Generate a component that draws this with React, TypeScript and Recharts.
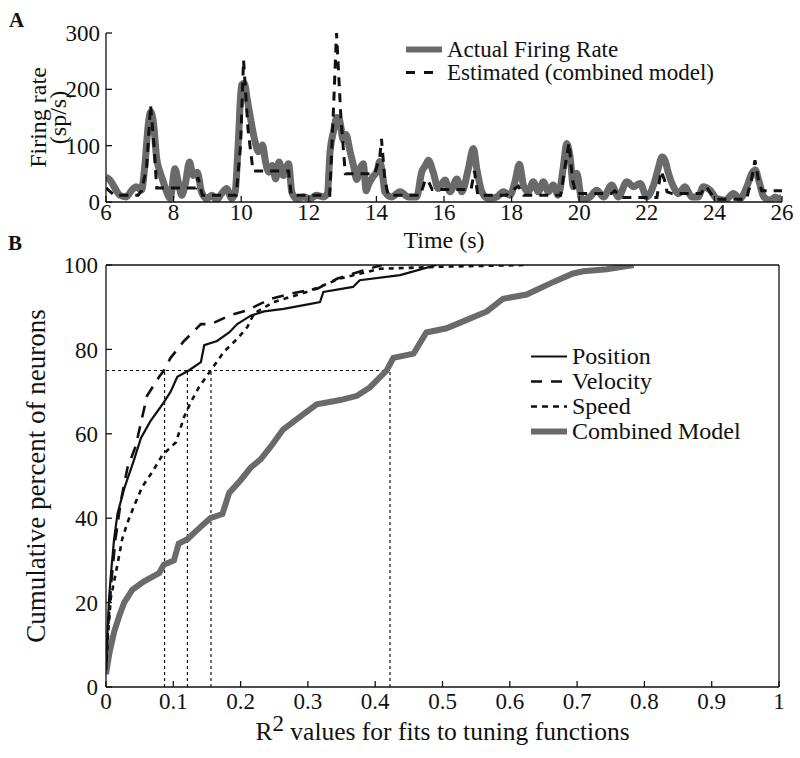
import React from 'react';
import { LineChart, Line, XAxis, YAxis, ReferenceLine, Legend, Label } from 'recharts';

const FONT = '"Liberation Serif", "Times New Roman", serif';
const GREY = '#6a6a6a';

// Panel A: firing rate over time
const actualTime = [
  6.0, 6.12, 6.27, 6.41, 6.6, 6.76, 6.9, 7.05, 7.15, 7.25, 7.32, 7.4, 7.5, 7.6, 7.7, 7.8, 7.9, 8.04, 8.14, 8.24,
  8.34, 8.47, 8.58, 8.7, 8.83, 8.98, 9.13, 9.27, 9.42, 9.57, 9.72, 9.82, 9.92, 10.01, 10.09, 10.19, 10.31, 10.41,
  10.51, 10.63, 10.72, 10.82, 10.92, 11.02, 11.12, 11.25, 11.4, 11.5, 11.64, 11.84, 12.04, 12.23, 12.43, 12.55,
  12.63, 12.73, 12.83, 12.9, 13.02, 13.1, 13.22, 13.32, 13.42, 13.52, 13.61, 13.7, 13.76, 13.9, 14.02, 14.1, 14.2,
  14.25, 14.45, 14.7, 14.95, 15.19, 15.34, 15.45, 15.54, 15.68, 15.83, 16.03, 16.18, 16.38, 16.53, 16.72, 16.87,
  16.97, 17.12, 17.31, 17.56, 17.76, 17.95, 18.1, 18.23, 18.35, 18.49, 18.64, 18.79, 18.94, 19.09, 19.23, 19.38,
  19.53, 19.63, 19.73, 19.83, 19.93, 20.08, 20.32, 20.52, 20.72, 20.96, 21.16, 21.41, 21.61, 21.8, 22.0, 22.2,
  22.35, 22.45, 22.54, 22.64, 22.79, 22.94, 23.13, 23.33, 23.52, 23.67, 23.87, 24.07, 24.32, 24.56, 24.76, 24.96,
  25.11, 25.21, 25.31, 25.46, 25.65, 25.8, 25.9, 26.0,
];
const actualRate = [
  44, 39, 24, 12, 9, 21, 27, 21, 65, 137, 160, 143, 77, 53, 35, 17, 6, 59, 35, 12,
  30, 71, 47, 53, 17, 6, 12, 3, 15, 24, 6, 17, 113, 208, 211, 178, 137, 107,
  89, 101, 71, 53, 65, 41, 71, 47, 68, 17, 6, 9, 6, 12, 9, 15,
  90, 125, 150, 148, 110, 120, 90, 65, 40, 60, 68, 20, 30, 45, 55, 72, 40,
  18, 9, 18, 9, 9, 53, 65, 74, 53, 24, 39, 18, 41, 18, 59, 95,
  59, 18, 6, 9, 18, 12, 36, 67, 30, 18, 36, 18, 36, 18, 30, 12,
  62, 104, 80, 27, 51, 3, 9, 21, 9, 30, 9, 36, 27, 33, 9, 30,
  62, 80, 74, 51, 27, 15, 27, 9, 9, 27, 21, 6, 3, 15, 6, 27,
  51, 57, 39, 9, 3, 9, 6, 8,
];
const estTime = [
  6.0, 6.25, 6.95, 7.05, 7.2, 7.32, 7.42, 7.5, 8.65, 8.72, 8.85, 9.85, 9.98, 10.07, 10.2, 10.35, 11.4, 11.48,
  12.62, 12.72, 12.82, 12.95, 13.08, 13.95, 14.1, 14.15, 14.25, 14.35, 15.3, 15.45, 15.55, 15.65, 16.8, 16.9,
  17.0, 17.85, 17.95, 18.2, 18.35, 19.45, 19.6, 19.7, 19.8, 19.9, 20.95, 21.05, 21.25, 22.3, 22.42, 22.52, 22.6,
  22.75, 23.6, 23.75, 23.9, 24.05, 24.95, 25.1, 25.2, 25.3, 25.4, 26.0,
];
const estRate = [
  25, 12, 12, 20, 60, 172, 100, 25, 25, 44, 12, 12, 100, 252, 130, 55, 55, 12,
  12, 150, 300, 150, 50, 50, 80, 112, 40, 12, 12, 40, 35, 22, 22, 55,
  12, 12, 18, 28, 12, 12, 70, 105, 40, 15, 15, 20, 8, 8, 55, 40, 18,
  15, 15, 28, 15, 5, 5, 40, 74, 40, 20, 20,
];
const timeTicks = [6, 8, 10, 12, 14, 16, 18, 20, 22, 24, 26];
const rateTicks = [0, 100, 200, 300];

// Panel B: cumulative distributions of R^2
const posR2 = [0, 0.002, 0.0045, 0.008, 0.012, 0.017, 0.027, 0.042, 0.052, 0.066, 0.084, 0.096, 0.106, 0.123, 0.141, 0.146, 0.165, 0.183, 0.195, 0.215, 0.235, 0.264, 0.304, 0.318, 0.323, 0.367, 0.377, 0.437, 0.491];
const posPct = [5, 12, 21, 28, 35, 41, 47, 54, 59, 63, 67, 70, 73.5, 75, 77, 81, 82, 84, 86, 88, 89, 89.6, 90.8, 91.2, 93.6, 94.8, 96.4, 97.6, 100];
const velR2 = [0, 0.003, 0.008, 0.014, 0.022, 0.032, 0.044, 0.061, 0.079, 0.086, 0.096, 0.116, 0.141, 0.156, 0.183, 0.21, 0.245, 0.274, 0.314, 0.344, 0.382, 0.41];
const velPct = [5, 14, 25, 35, 44, 52, 57, 69, 73.5, 75, 78, 82, 86, 86, 88, 89.3, 92, 93.2, 94.4, 96.8, 98.7, 100];
const spdR2 = [0, 0.003, 0.007, 0.017, 0.024, 0.032, 0.042, 0.054, 0.069, 0.084, 0.104, 0.116, 0.126, 0.138, 0.151, 0.16, 0.175, 0.195, 0.21, 0.22, 0.249, 0.298, 0.348, 0.407, 0.5, 0.625];
const spdPct = [4, 12, 21, 29, 35, 39, 43, 47.5, 51, 55, 58, 64, 67.5, 71, 74, 76, 79.4, 82.5, 85.3, 88.5, 91.2, 93.6, 96.8, 99.1, 99.6, 100];
const combR2 = [0, 0.005, 0.012, 0.02, 0.027, 0.039, 0.056, 0.079, 0.086, 0.101, 0.108, 0.121, 0.141, 0.155, 0.173, 0.183, 0.2, 0.215, 0.23, 0.245, 0.263, 0.288, 0.313, 0.348, 0.373, 0.392, 0.417, 0.427, 0.457, 0.476, 0.506, 0.536, 0.566, 0.59, 0.625, 0.665, 0.694, 0.709, 0.744, 0.784];
const combPct = [3, 8, 13, 17, 20, 23, 25, 27, 29, 30, 34, 35, 38, 40, 41, 46, 49, 52, 54, 57, 61, 64, 67, 68, 69, 71, 75, 78, 79, 84, 85, 87, 89, 92, 93, 96, 98, 98.5, 99, 100];
const medianLevel = 75;
const medianR2 = [0.087, 0.121, 0.156, 0.422];
const r2Ticks = [0, 0.1, 0.2, 0.3, 0.4, 0.5, 0.6, 0.7, 0.8, 0.9, 1];
const pctTicks = [0, 20, 40, 60, 80, 100];

const zip = (xs: number[], ys: number[], kx: string, ky: string) => xs.map((x, i) => ({ [kx]: x, [ky]: ys[i] }));

const actualData = zip(actualTime, actualRate, 't', 'v');
const estData = zip(estTime, estRate, 't', 'v');

const legendA = [
  { name: 'Actual Firing Rate', color: GREY, width: 6, dash: undefined },
  { name: 'Estimated (combined model)', color: '#111', width: 3, dash: '9 9' },
];
const legendB = [
  { name: 'Position', color: '#111', width: 2.2, dash: undefined },
  { name: 'Velocity', color: '#111', width: 2.6, dash: '11 9' },
  { name: 'Speed', color: '#111', width: 2.6, dash: '6 5' },
  { name: 'Combined Model', color: GREY, width: 6, dash: undefined },
];

const tickStyle = { fontFamily: FONT, fontSize: 23, fill: '#111' };

function LegendBox({ rows, sample, rowH, size }: any) {
  return (
    <div style={{ fontFamily: FONT, fontSize: size, lineHeight: `${rowH}px`, color: '#111' }}>
      {rows.map((r: any) => (
        <div key={r.name} style={{ display: 'flex', alignItems: 'center', height: rowH, whiteSpace: 'nowrap' }}>
          <svg width={sample} height={rowH} style={{ marginRight: 5 }}>
            <line x1={0} x2={sample} y1={rowH / 2} y2={rowH / 2} stroke={r.color} strokeWidth={r.width} strokeDasharray={r.dash} />
          </svg>
          <span>{r.name}</span>
        </div>
      ))}
    </div>
  );
}

function yTitle(viewBox: any, lines: string[], offsets: number[], size: number) {
  const cy = viewBox.y + viewBox.height / 2;
  const ax = viewBox.x + viewBox.width;
  return (
    <g>
      {lines.map((s, i) => (
        <text
          key={s}
          transform={`translate(${ax + offsets[i]},${cy}) rotate(-90)`}
          textAnchor="middle"
          style={{ fontFamily: FONT, fontSize: size, fill: '#111' }}
        >
          {s}
        </text>
      ))}
    </g>
  );
}

function xTitle(viewBox: any, offset: number, size: number, children: React.ReactNode) {
  return (
    <text
      x={viewBox.x + viewBox.width / 2}
      y={viewBox.y + offset}
      textAnchor="middle"
      style={{ fontFamily: FONT, fontSize: size, fill: '#111' }}
    >
      {children}
    </text>
  );
}

export default function App() {
  return (
    <div style={{ position: 'absolute', left: 0, top: 0, width: 800, height: 758, background: '#fff' }}>
      <div style={{ position: 'absolute', left: 0, top: 250 }}>
        <LineChart width={800} height={508} margin={{ top: 14, right: 20, bottom: 70, left: 105 }}>
          <XAxis
            xAxisId="b"
            dataKey="r"
            type="number"
            domain={[0, 1]}
            ticks={r2Ticks}
            interval={0}
            height={1}
            allowDataOverflow
            stroke="#111"
            strokeWidth={1.3}
            tickSize={-6}
            tickMargin={12}
            tick={tickStyle}
          >
            <Label
              content={(p: any) =>
                xTitle(p.viewBox, 53, 25.5, (
                  <>
                    R<tspan dy={-9} fontSize={23}>2</tspan>
                    <tspan dy={9}> values for fits to tuning functions</tspan>
                  </>
                ))
              }
            />
          </XAxis>
          <XAxis xAxisId="t" orientation="top" dataKey="r" type="number" domain={[0, 1]} ticks={r2Ticks} interval={0} height={1} stroke="#111" strokeWidth={1.3} tickSize={-6} tick={false} />
          <YAxis
            yAxisId="l"
            type="number"
            domain={[0, 100]}
            ticks={pctTicks}
            interval={0}
            width={1}
            allowDataOverflow
            stroke="#111"
            strokeWidth={1.3}
            tickSize={-6}
            tickMargin={14}
            tick={tickStyle}
          >
            <Label content={(p: any) => yTitle(p.viewBox, ['Cumulative percent of neurons'], [-61], 27)} />
          </YAxis>
          <YAxis yAxisId="r" orientation="right" type="number" domain={[0, 100]} ticks={pctTicks} interval={0} width={1} stroke="#111" strokeWidth={1.3} tickSize={-6} tick={false} />

          <ReferenceLine
            xAxisId="b"
            yAxisId="l"
            segment={[{ x: 0, y: medianLevel }, { x: medianR2[medianR2.length - 1], y: medianLevel }]}
            stroke="#111"
            strokeWidth={1.2}
            strokeDasharray="3 3"
          />
          {medianR2.map((r) => (
            <ReferenceLine
              key={r}
              xAxisId="b"
              yAxisId="l"
              segment={[{ x: r, y: 0 }, { x: r, y: medianLevel }]}
              stroke="#111"
              strokeWidth={1.2}
              strokeDasharray="3 3"
            />
          ))}

          <Line xAxisId="b" yAxisId="l" data={zip(combR2, combPct, 'r', 'p')} dataKey="p" type="linear" stroke={GREY} strokeWidth={6} dot={false} isAnimationActive={false} />
          <Line xAxisId="b" yAxisId="l" data={zip(spdR2, spdPct, 'r', 'p')} dataKey="p" type="linear" stroke="#111" strokeWidth={2.6} strokeDasharray="5 5" dot={false} isAnimationActive={false} />
          <Line xAxisId="b" yAxisId="l" data={zip(velR2, velPct, 'r', 'p')} dataKey="p" type="linear" stroke="#111" strokeWidth={2.6} strokeDasharray="12 9" dot={false} isAnimationActive={false} />
          <Line xAxisId="b" yAxisId="l" data={zip(posR2, posPct, 'r', 'p')} dataKey="p" type="linear" stroke="#111" strokeWidth={2.2} dot={false} isAnimationActive={false} />

          <Legend
            layout="vertical"
            align="center"
            verticalAlign="middle"
            wrapperStyle={{ left: 531, top: 94, width: 'auto' }}
            content={() => <LegendBox rows={legendB} sample={36} rowH={25} size={24} />}
          />
        </LineChart>
      </div>

      <div style={{ position: 'absolute', left: 0, top: 0 }}>
        <LineChart width={800} height={262} margin={{ top: 33, right: 18, bottom: 59, left: 105 }}>
          <XAxis
            dataKey="t"
            type="number"
            domain={[6, 26]}
            ticks={timeTicks}
            interval={0}
            height={1}
            allowDataOverflow
            stroke="#111"
            strokeWidth={1.3}
            tickSize={-6}
            tickMargin={8}
            tick={tickStyle}
          >
            <Label content={(p: any) => xTitle(p.viewBox, 46, 24, 'Time (s)')} />
          </XAxis>
          <YAxis
            type="number"
            domain={[0, 300]}
            ticks={rateTicks}
            interval={0}
            width={1}
            allowDataOverflow
            stroke="#111"
            strokeWidth={1.3}
            tickSize={-6}
            tickMargin={12}
            tick={tickStyle}
          >
            <Label content={(p: any) => yTitle(p.viewBox, ['Firing rate', '(sp/s)'], [-60, -40], 24)} />
          </YAxis>
          <Line data={actualData} dataKey="v" type="monotone" stroke={GREY} strokeWidth={7} dot={false} isAnimationActive={false} strokeLinejoin="round" />
          <Line data={estData} dataKey="v" type="linear" stroke="#111" strokeWidth={3} strokeDasharray="9 7" dot={false} isAnimationActive={false} />
          <Legend
            layout="vertical"
            align="center"
            verticalAlign="middle"
            wrapperStyle={{ left: 406, top: 38, width: 'auto' }}
            content={() => <LegendBox rows={legendA} sample={36} rowH={23} size={23} />}
          />
        </LineChart>
      </div>

      <svg width={800} height={758} style={{ position: 'absolute', left: 0, top: 0, pointerEvents: 'none' }}>
        <text x={9} y={27} style={{ fontFamily: FONT, fontSize: 21, fontWeight: 'bold', fill: '#111' }}>A</text>
        <text x={8} y={250} style={{ fontFamily: FONT, fontSize: 21, fontWeight: 'bold', fill: '#111' }}>B</text>
      </svg>
    </div>
  );
}
